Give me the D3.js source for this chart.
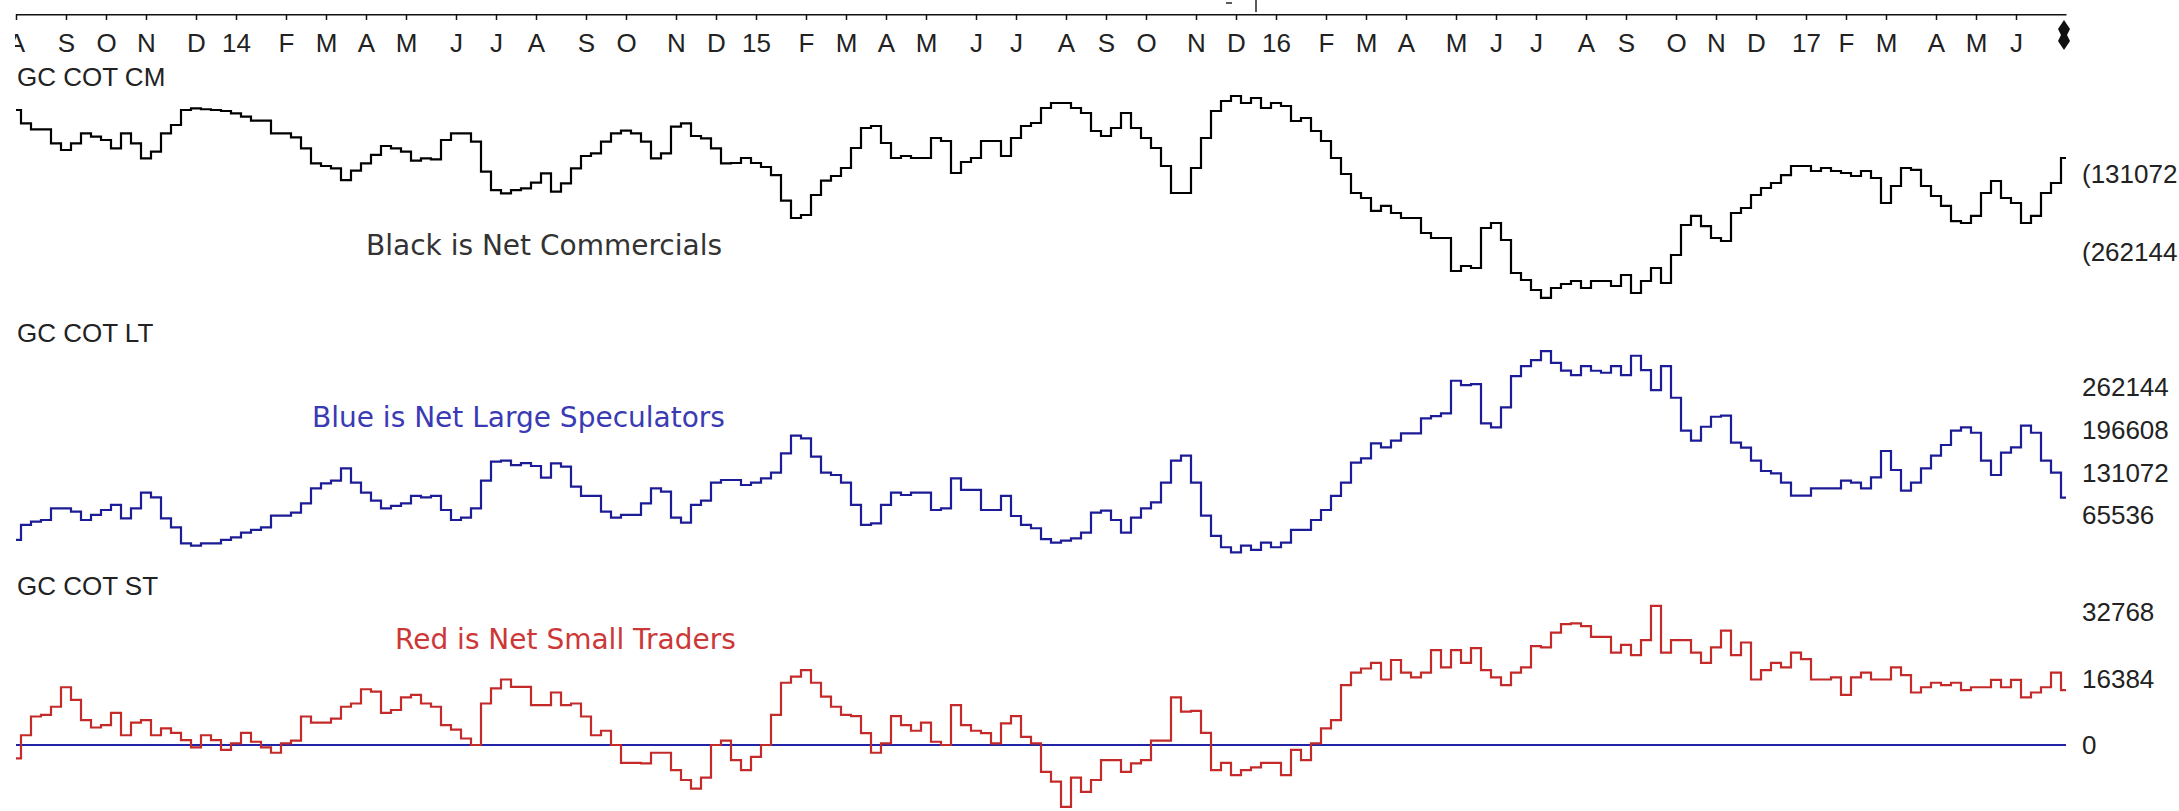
<!DOCTYPE html>
<html>
<head>
<meta charset="utf-8">
<script src="https://d3js.org/d3.v7.min.js"></script>
<style>
  body { margin: 0; background: #fff; }
  svg { display: block; }
</style>
</head>
<body>
<script>
// weekly COT report dates (Fridays), first report shown
var firstWeek = new Date(2013, 7, 2);
var monthLetters = ["J", "F", "M", "A", "M", "J", "J", "A", "S", "O", "N", "D"];

// net positions, thousands of contracts, one value per week
var commercials = [
  -23.5, -45.9, -56.0, -56.0, -79.5, -90.7, -79.5, -62.7, -68.4, -73.9,
  -87.9, -62.7, -79.5, -104.7, -93.6, -62.7, -48.7, -23.5, -20.7, -22.3,
  -23.5, -25.2, -29.1, -34.8, -41.5, -41.5, -62.7, -62.7, -69.4, -87.9,
  -113.1, -117.6, -121.5, -141.2, -125.5, -113.1, -99.1, -84.0, -87.9, -93.6,
  -108.7, -104.7, -106.4, -73.9, -62.7, -62.7, -76.8, -127.2, -158.0, -163.5,
  -158.0, -155.1, -145.7, -129.9, -160.8, -146.7, -121.5, -100.8, -96.3, -76.8,
  -62.7, -58.3, -62.7, -76.8, -104.7, -96.3, -51.6, -45.9, -67.2, -71.1,
  -87.9, -113.1, -112.6, -104.2, -112.6, -119.3, -132.8, -175.9, -205.0, -200.0,
  -166.4, -142.3, -134.4, -121.0, -87.4, -53.8, -50.4, -79.0, -104.2, -100.8,
  -104.2, -104.2, -70.6, -75.6, -129.4, -110.9, -104.2, -75.6, -75.6, -100.8,
  -70.6, -50.4, -45.4, -20.2, -11.8, -11.8, -20.2, -28.6, -58.8, -67.2,
  -53.8, -28.6, -53.8, -70.6, -87.4, -117.6, -163.0, -163.0, -121.0, -70.6,
  -25.2, -8.4, 0, -11.8, -3.4, -20.2, -11.8, -16.8, -42.0, -37.0,
  -58.8, -75.6, -104.2, -131.1, -163.0, -171.4, -193.2, -184.8, -196.6, -205.0,
  -205.0, -230.2, -238.6, -238.6, -294.1, -285.7, -289.0, -221.8, -213.4, -242.0,
  -297.4, -309.2, -326.0, -339.4, -322.6, -315.9, -310.9, -322.6, -310.9, -310.9,
  -319.3, -300.8, -331.0, -310.9, -289.0, -314.2, -267.2, -216.8, -201.6, -218.5,
  -238.6, -243.7, -196.6, -188.2, -166.4, -154.6, -146.2, -132.8, -117.6, -117.6,
  -126.0, -121.0, -126.0, -129.4, -134.4, -126.0, -137.8, -179.8, -151.2, -121.0,
  -124.3, -151.2, -168.0, -184.8, -210.1, -213.4, -201.6, -163.0, -142.8, -171.4,
  -179.8, -213.4, -201.6, -163.0, -146.2, -104.2
];

var largeSpecs = [
  27.3, 50.3, 55.4, 57.9, 75.8, 75.8, 70.7, 57.9, 65.6, 73.2,
  80.9, 60.5, 75.8, 99.8, 92.6, 60.5, 46.7, 22.2, 18.6, 22.2,
  22.2, 27.3, 31.4, 38.5, 42.6, 46.7, 64.6, 64.6, 69.2, 83.4,
  106.4, 114.1, 118.2, 137.0, 115.1, 99.8, 87.5, 75.8, 79.4, 83.4,
  94.7, 92.6, 94.7, 73.2, 57.9, 61.5, 75.8, 118.2, 147.2, 148.8,
  142.1, 145.0, 140.6, 122.7, 144.7, 139.6, 109.0, 94.7, 94.7, 70.7,
  61.5, 65.6, 65.6, 83.4, 106.4, 101.3, 61.5, 53.8, 80.9, 87.5,
  115.1, 119.2, 119.2, 111.5, 115.1, 121.7, 130.4, 160.0, 187.1, 183.0,
  154.9, 130.4, 126.8, 115.1, 80.9, 50.3, 52.8, 80.9, 99.8, 96.2,
  99.8, 99.8, 73.2, 75.8, 121.7, 103.9, 103.9, 73.2, 73.2, 94.7,
  64.0, 50.3, 45.2, 28.5, 23.2, 26.3, 29.8, 38.5, 69.2, 72.2,
  57.9, 38.5, 61.5, 75.8, 85.0, 115.1, 148.8, 156.4, 115.1, 64.6,
  33.4, 16.1, 8.4, 18.6, 12.0, 23.2, 16.1, 23.2, 42.6, 42.6,
  57.9, 73.2, 94.7, 115.1, 145.7, 152.3, 175.3, 169.2, 179.4, 190.6,
  190.6, 213.6, 217.2, 221.3, 271.3, 264.6, 266.2, 205.9, 199.8, 230.4,
  278.4, 293.7, 302.9, 316.7, 298.8, 286.8, 279.9, 293.7, 286.6, 283.5,
  293.7, 279.9, 309.6, 287.6, 257.0, 293.7, 245.2, 194.7, 179.4, 200.8,
  216.1, 217.7, 176.3, 168.7, 148.8, 133.0, 129.4, 115.1, 95.2, 95.2,
  106.4, 106.4, 106.4, 118.2, 115.1, 106.4, 123.3, 163.6, 134.5, 102.8,
  115.1, 137.0, 156.4, 172.8, 194.7, 199.8, 191.6, 148.8, 126.8, 161.0,
  169.2, 202.4, 191.6, 148.8, 130.4, 92.1
];

var smallTraders = [
  -3.3, 2.4, 7.0, 7.4, 9.4, 14.2, 11.1, 6.1, 4.3, 4.9,
  7.9, 2.4, 5.5, 6.1, 2.4, 4.1, 3.0, 1.2, -0.6, 2.4,
  1.2, -1.2, 0.4, 3.0, 0.8, -0.6, -1.9, 0.4, 1.1, 7.0,
  5.5, 5.5, 6.5, 9.4, 10.2, 13.7, 13.1, 7.9, 8.6, 11.7,
  12.3, 10.2, 9.4, 4.9, 3.8, 1.6, 0.0, 10.2, 13.9, 16.1,
  14.3, 14.3, 9.8, 9.8, 12.9, 9.8, 10.2, 7.0, 2.4, 3.5,
  0.0, -4.4, -4.4, -4.5, -1.9, -1.9, -6.2, -8.6, -10.7, -8.0,
  0.0, 1.1, -3.7, -6.2, -2.9, 0.0, 7.4, 15.3, 16.8, 18.4,
  15.3, 11.9, 9.4, 7.4, 7.1, 2.9, -1.9, 0.4, 7.1, 4.9,
  3.5, 5.5, 0.8, 0.0, 9.8, 4.9, 3.5, 2.9, 0.4, 5.3,
  7.1, 2.0, 0.4, -6.6, -9.0, -15.2, -8.0, -11.5, -8.6, -3.7,
  -3.7, -6.6, -4.5, -3.7, 1.1, 1.1, 11.7, 8.2, 8.4, 3.0,
  -6.2, -4.4, -7.4, -6.2, -5.5, -4.4, -4.4, -7.4, -1.2, -3.7,
  0.4, 4.1, 6.1, 14.7, 17.8, 18.8, 20.2, 16.1, 20.9, 17.8,
  16.6, 17.8, 23.3, 19.1, 23.3, 20.2, 23.8, 18.4, 16.6, 14.7,
  17.8, 19.1, 24.3, 24.0, 27.6, 29.7, 29.9, 29.2, 26.6, 26.6,
  22.7, 24.6, 22.1, 25.8, 34.2, 22.7, 25.8, 25.8, 22.7, 20.2,
  24.0, 28.1, 22.1, 25.2, 16.1, 18.4, 20.2, 19.1, 22.7, 21.1,
  16.1, 16.1, 16.6, 12.3, 16.6, 17.8, 16.1, 16.1, 19.1, 17.2,
  12.9, 14.2, 15.3, 14.7, 15.3, 13.5, 14.2, 14.2, 16.0, 14.2,
  16.0, 11.7, 12.9, 14.2, 17.8, 13.5
];

// right-hand scale labels, in contracts
var commTicks = [-131072, -262144];
var specTicks = [262144, 196608, 131072, 65536];
var smallTicks = [32768, 16384, 0];

var width = 2179, height = 811;
var labelFont = "'Liberation Sans', Arial, sans-serif";
var noteFont = "'DejaVu Sans', Verdana, sans-serif";

var dates = commercials.map(function(d, i) { return d3.timeWeek.offset(firstWeek, i); });

var svg = d3.select("body").append("svg")
    .attr("width", width)
    .attr("height", height)
    .style("background", "#fff");

var x = d3.scaleTime()
    .domain([dates[0], dates[dates.length - 1]])
    .range([16, 2066]);

var yComm = d3.scaleLinear().domain([-262.144, -131.072]).range([252, 174]);
var ySpec = d3.scaleLinear().domain([65.536, 262.144]).range([515, 386.7]);
var ySmall = d3.scaleLinear().domain([0, 32.768]).range([745, 611.7]);

// top date axis, ticks at the first report of each month
var tickDates = dates.filter(function(d) { return d.getDate() <= 7; })
    .filter(function(d, i, a) { return i < a.length - 1; });

svg.append("clipPath").attr("id", "axclip")
  .append("rect").attr("x", 15).attr("y", 0).attr("width", width).attr("height", 70);

var xAxis = d3.axisBottom(x)
    .tickValues(tickDates)
    .tickSize(6)
    .tickSizeOuter(0)
    .tickPadding(14)
    .tickFormat(function(d) {
      return d.getMonth() == 0 ? d3.timeFormat("%y")(d) : monthLetters[d.getMonth()];
    });

var gx = svg.append("g")
    .attr("transform", "translate(0,14)")
    .attr("clip-path", "url(#axclip)")
    .call(xAxis);

gx.select(".domain").attr("stroke", "#111").attr("stroke-width", 2);
gx.selectAll(".tick line").attr("stroke", "#111").attr("stroke-width", 1.5);
gx.selectAll(".tick text")
    .attr("fill", "#222")
    .style("font-family", labelFont)
    .style("font-size", "26px");

// little marker above the axis and the end-of-data marker
var markDate = dates[124];
svg.append("line")
    .attr("x1", x(markDate)).attr("x2", x(markDate))
    .attr("y1", 0).attr("y2", 12)
    .attr("stroke", "#222").attr("stroke-width", 1.5);
svg.append("line")
    .attr("x1", x(markDate) - 30).attr("x2", x(markDate) - 24)
    .attr("y1", 3).attr("y2", 3)
    .attr("stroke", "#222").attr("stroke-width", 1.5);

var endX = x(dates[dates.length - 1]) - 2;
svg.append("path")
    .attr("d", "M" + endX + ",20 L" + (endX + 6) + ",29 L" + (endX + 3) + ",35 L" + (endX + 6) + ",41 L"
      + endX + ",50 L" + (endX - 6) + ",41 L" + (endX - 3) + ",35 L" + (endX - 6) + ",29 Z")
    .attr("fill", "#111");

// the three panels
var panels = [
  { title: "GC COT CM", titleY: 86, data: commercials, y: yComm, color: "#000000",
    note: "Black is Net Commercials", noteX: 366, noteY: 255, noteColor: "#333333",
    ticks: commTicks, fmt: function(v) { return "(" + Math.abs(v); } },
  { title: "GC COT LT", titleY: 342, data: largeSpecs, y: ySpec, color: "#1c1c96",
    note: "Blue is Net Large Speculators", noteX: 312, noteY: 427, noteColor: "#3a3ab4",
    ticks: specTicks, fmt: function(v) { return String(v); } },
  { title: "GC COT ST", titleY: 595, data: smallTraders, y: ySmall, color: "#c42a2a",
    note: "Red is Net Small Traders", noteX: 395, noteY: 649, noteColor: "#cc3838",
    ticks: smallTicks, fmt: function(v) { return String(v); } }
];

panels.forEach(function(p) {
  svg.append("text")
      .attr("x", 17)
      .attr("y", p.titleY)
      .attr("fill", "#222")
      .style("font-family", labelFont)
      .style("font-size", "26px")
      .text(p.title);

  svg.append("text")
      .attr("x", p.noteX)
      .attr("y", p.noteY)
      .attr("fill", p.noteColor)
      .style("font-family", noteFont)
      .style("font-size", "28px")
      .text(p.note);

  if (p.y === ySmall) {
    svg.append("line")
        .attr("x1", x.range()[0]).attr("x2", x.range()[1])
        .attr("y1", ySmall(0)).attr("y2", ySmall(0))
        .attr("stroke", "#2323a8").attr("stroke-width", 2);
  }

  var line = d3.line()
      .x(function(d, i) { return x(dates[i]); })
      .y(function(d) { return p.y(d); })
      .curve(d3.curveStep);

  svg.append("path")
      .datum(p.data)
      .attr("fill", "none")
      .attr("stroke", p.color)
      .attr("stroke-width", 2.2)
      .attr("d", line);

  svg.selectAll(null)
      .data(p.ticks)
    .enter().append("text")
      .attr("x", 2082)
      .attr("y", function(v) { return p.y(v / 1000); })
      .attr("dy", "0.36em")
      .attr("fill", "#222")
      .style("font-family", labelFont)
      .style("font-size", "26px")
      .text(p.fmt);
});
</script>
</body>
</html>
